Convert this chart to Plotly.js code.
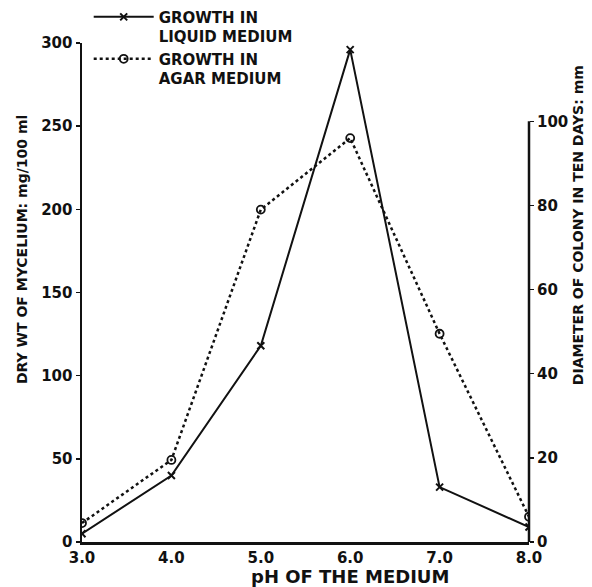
<!DOCTYPE html>
<html>
<head>
<meta charset="utf-8">
<script src="https://cdn.plot.ly/plotly-3.0.1.min.js"></script>
<style>html,body{margin:0;padding:0;background:#fff;}#chart{width:592px;height:587px;}</style>
</head>
<body>
<div id="chart"></div>
<script>
// pH of the medium
const pH = [3.0, 4.0, 5.0, 6.0, 7.0, 8.0];
// Dry weight of mycelium, mg/100 ml (liquid medium, left axis)
const liquidGrowth = [5, 40, 118, 296, 33, 9];
// Diameter of colony in ten days, mm (agar medium, right axis)
const agarGrowth = [4.5, 19.5, 79, 96, 49.5, 6];
const leftTicks = [0, 50, 100, 150, 200, 250, 300];
const rightTicks = [0, 20, 40, 60, 80, 100];
const xTicks = [3, 4, 5, 6, 7, 8];
const xTickLabels = ['3.0', '4.0', '5.0', '6.0', '7.0', '8.0'];

const F = 'DejaVu Sans, Liberation Sans, sans-serif';
const ink = '#111';

const traces = [
  {
    x: pH, y: liquidGrowth, yaxis: 'y', type: 'scatter', mode: 'lines+markers',
    name: 'GROWTH IN<br>LIQUID MEDIUM',
    line: {color: ink, width: 2},
    marker: {symbol: 'x-thin-open', size: 7, color: ink, line: {color: ink, width: 2}}
  },
  {
    x: pH, y: agarGrowth, yaxis: 'y2', type: 'scatter', mode: 'lines+markers',
    name: 'GROWTH IN<br>AGAR MEDIUM',
    line: {color: ink, width: 2.5, dash: 'dot'},
    marker: {symbol: 'circle-open', size: 8, color: ink, line: {color: ink, width: 1.8}}
  }
];

const tf = {family: F, size: 15, color: ink, weight: 'bold'};

const layout = {
  width: 592, height: 587,
  margin: {l: 82, r: 63, t: 43, b: 45, autoexpand: false},
  paper_bgcolor: '#fff', plot_bgcolor: '#fff',
  font: {family: F, color: ink, size: 15, weight: 'bold'},
  showlegend: true,
  legend: {
    x: 0.015, y: 1.085, xanchor: 'left', yanchor: 'top', valign: 'top',
    bgcolor: 'rgba(0,0,0,0)', font: {family: F, size: 15, color: ink, weight: 'bold'},
    tracegroupgap: 6, itemwidth: 60
  },
  xaxis: {
    range: [3, 8], tickvals: xTicks, ticktext: xTickLabels,
    showgrid: false, zeroline: false, showline: true, linecolor: ink, linewidth: 2.5,
    ticks: '', tickfont: tf, automargin: false
  },
  yaxis: {
    range: [0, 300], tickvals: leftTicks, automargin: false,
    showgrid: false, zeroline: false, showline: true, linecolor: ink, linewidth: 2.5,
    ticks: 'outside', ticklen: 4, tickwidth: 1.5, tickcolor: ink,
    tickfont: tf
  },
  yaxis2: {
    overlaying: 'y', side: 'right', range: [0, 118.6], tickvals: rightTicks, automargin: false,
    showgrid: false, zeroline: false, showline: false,
    ticks: 'outside', ticklen: 4, tickwidth: 1.5, tickcolor: ink,
    tickfont: tf
  },
  annotations: [
    {text: 'DRY WT OF MYCELIUM: mg/100 ml', xref: 'paper', yref: 'paper', x: 0, xshift: -60, y: 0.585,
     xanchor: 'center', yanchor: 'middle',
     textangle: -90, showarrow: false, font: {family: F, size: 14, color: ink, weight: 'bold'}},
    {text: 'DIAMETER OF COLONY IN TEN DAYS: mm', xref: 'paper', yref: 'paper', x: 1, xshift: 49, y: 0.635,
     xanchor: 'center', yanchor: 'middle',
     textangle: -90, showarrow: false, font: {family: F, size: 14, color: ink, weight: 'bold'}},
    {text: 'pH OF THE MEDIUM', xref: 'paper', yref: 'paper', x: 0.6, y: 0, yshift: -34,
     xanchor: 'center', yanchor: 'middle',
     showarrow: false, font: {family: F, size: 18, color: ink, weight: 'bold'}}
  ],
  shapes: [
    {type: 'line', xref: 'paper', yref: 'y2', x0: 1, x1: 1, y0: 0, y1: 100, line: {color: ink, width: 2.5}}
  ]
};

Plotly.newPlot('chart', traces, layout, {displayModeBar: false, staticPlot: true});
</script>
</body>
</html>
